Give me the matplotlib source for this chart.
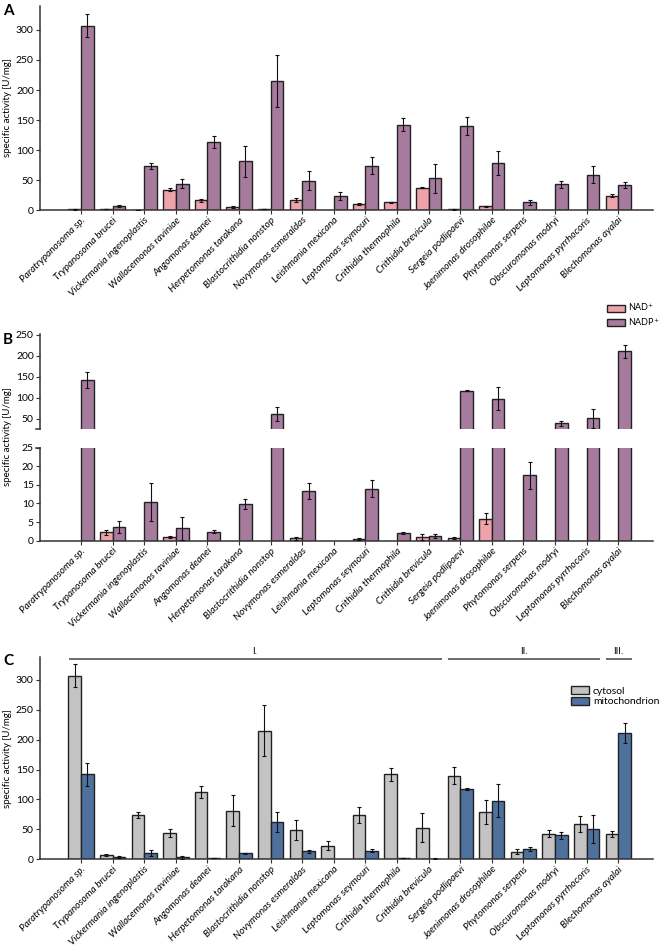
import numpy as np
import matplotlib
matplotlib.use('Agg')
import matplotlib.pyplot as plt
from matplotlib.patches import Patch

plt.rcParams['font.family'] = ['Lato', 'DejaVu Sans']

species = ['Paratrypanosoma sp.', 'Trypanosoma brucei', 'Vickermania ingenoplastis',
           'Wallacemonas raviniae', 'Angomonas deanei', 'Herpetomonas tarakana',
           'Blastocrithidia nonstop', 'Novymonas esmeraldas', 'Leishmania mexicana',
           'Leptomonas seymouri', 'Crithidia thermophila', 'Crithidia brevicula',
           'Sergeia podlipaevi', 'Jaenimonas drosophilae', 'Phytomonas serpens',
           'Obscuromonas modryi', 'Leptomonas pyrrhocoris', 'Blechomonas ayalai']

# panel A (cytosol)
nad_cyt = [1.0, 1.5, 0.5, 34, 16, 5.5, 1.5, 17, np.nan, 10, 13, 37, 1.0, 6, np.nan, np.nan, np.nan, 24]
nad_cyt_err = [0.3, 0.3, 0.2, 2, 3, 1.5, 0.3, 3, 0, 1, 1, 1, 0.3, 1, 0, 0, 0, 3]
nadp_cyt = [307, 7, 74, 44, 113, 81, 215, 49, 23, 74, 142, 53, 140, 79, 13, 43, 59, 42]
nadp_cyt_err = [19, 2, 5, 7, 10, 26, 43, 16, 7, 14, 11, 24, 15, 20, 4, 6, 14, 5]

# panel B (mitochondrion)
nad_mit = [np.nan, 2.2, np.nan, 1.0, np.nan, np.nan, np.nan, 0.6, np.nan, 0.4, np.nan, 1.0, 0.7, 5.9,
           np.nan, np.nan, np.nan, np.nan]
nad_mit_err = [0, 0.7, 0, 0.3, 0, 0, 0, 0.3, 0, 0.2, 0, 0.7, 0.2, 1.5, 0, 0, 0, 0]
nadp_mit = [142, 3.6, 10.3, 3.3, 2.4, 9.8, 62, 13.4, np.nan, 14.0, 2.0, 1.2, 117, 98, 17.6, 40, 51, 211]
nadp_mit_err = [19, 1.6, 5.1, 3.0, 0.4, 1.3, 17, 2.1, 0, 2.4, 0.3, 0.6, 1.5, 27, 3.6, 6, 23, 16]

groups = [('I.', 0, 11), ('II.', 12, 16), ('III.', 17, 17)]

c_nad = '#eea3aa'
c_nadp = '#a67b9d'
c_cyt = '#c3c3c3'
c_mit = '#4f719e'
edge = '#222222'

W, H = 660, 948
fig = plt.figure(figsize=(W / 100, H / 100), dpi=100)

def px_axes(x0, y0, x1, y1):
    return fig.add_axes([x0 / W, 1 - y1 / H, (x1 - x0) / W, (y1 - y0) / H])

x = np.arange(len(species))
bw = 0.4

def draw_bars(ax, vals, errs, offset, color):
    vals = np.array(vals, dtype=float)
    m = ~np.isnan(vals)
    ax.bar(x[m] + offset, vals[m], bw, color=color, edgecolor=edge, linewidth=1.0, zorder=2)
    e = np.array(errs, dtype=float)
    ax.errorbar(x[m] + offset, vals[m], yerr=e[m], fmt='none', ecolor='#111111',
                elinewidth=0.8, capsize=1.5, capthick=0.8, zorder=3)

def style(ax, bottom=True):
    for s in ['top', 'right']:
        ax.spines[s].set_visible(False)
    for s in ['left', 'bottom']:
        ax.spines[s].set_color('#333333')
        ax.spines[s].set_linewidth(1.1)
    ax.tick_params(axis='y', labelsize=7.5, length=3, width=0.8, pad=1.5, colors='#333333')
    ax.tick_params(axis='y', labelcolor='black')
    ax.set_xlim(-1.3, 18.1)
    ax.set_xticks(x)
    if bottom:
        ax.tick_params(axis='x', length=3, width=0.8, pad=1, colors='#333333')
        ax.set_xticklabels(species, rotation=45, ha='right', rotation_mode='anchor',
                           fontsize=7.2, style='italic', color='black')
    else:
        ax.spines['bottom'].set_visible(False)
        ax.tick_params(axis='x', length=0, labelbottom=False)

# ---- panel A
axA = px_axes(40, 6, 653, 210)
draw_bars(axA, nad_cyt, nad_cyt_err, -bw / 2, c_nad)
draw_bars(axA, nadp_cyt, nadp_cyt_err, bw / 2, c_nadp)
axA.set_ylim(0, 340)
axA.set_yticks([0, 50, 100, 150, 200, 250, 300])
style(axA)
axA.set_ylabel('specific activity [U/mg]', fontsize=7, labelpad=3)
axA.legend(handles=[Patch(facecolor=c_nad, edgecolor=edge, label='NAD$^{+}$'),
                    Patch(facecolor=c_nadp, edgecolor=edge, label='NADP$^{+}$')],
           loc='upper left', bbox_to_anchor=(602 / W, 1 - 297 / H), bbox_transform=fig.transFigure,
           frameon=False, fontsize=6.5, handlelength=2.0, handleheight=0.8, handletextpad=0.4,
           labelspacing=0.3, borderpad=0)

# ---- panel B (broken axis)
axBu = px_axes(40, 334, 653, 429)
axBl = px_axes(40, 447.5, 653, 540.7)
for ax in (axBu, axBl):
    draw_bars(ax, nad_mit, nad_mit_err, -bw / 2, c_nad)
    draw_bars(ax, nadp_mit, nadp_mit_err, bw / 2, c_nadp)
axBu.set_ylim(26, 252)
axBu.set_yticks([50, 100, 150, 200, 250])
axBl.set_ylim(0, 25)
axBl.set_yticks([0, 5, 10, 15, 20, 25])
style(axBu, bottom=False)
style(axBl)
axBu.plot([-0.006, 0], [0, 0], transform=axBu.transAxes, color='#333333', lw=1.1, clip_on=False)
axBl.plot([-0.006, 0], [1, 1], transform=axBl.transAxes, color='#333333', lw=1.1, clip_on=False)
fig.text(8 / W, 1 - 437 / H, 'specific activity [U/mg]', rotation=90, fontsize=7,
         ha='center', va='center')

# ---- panel C
axC = px_axes(40, 657, 653, 859.3)
draw_bars(axC, nadp_cyt, nadp_cyt_err, -bw / 2, c_cyt)
draw_bars(axC, nadp_mit, nadp_mit_err, bw / 2, c_mit)
axC.set_ylim(0, 338)
axC.set_yticks([0, 50, 100, 150, 200, 250, 300])
style(axC)
axC.set_ylabel('specific activity [U/mg]', fontsize=7, labelpad=3)
axC.legend(handles=[Patch(facecolor=c_cyt, edgecolor=edge, label='cytosol'),
                    Patch(facecolor=c_mit, edgecolor=edge, label='mitochondrion')],
           loc='upper left', bbox_to_anchor=(566 / W, 1 - 681 / H), bbox_transform=fig.transFigure,
           frameon=False, fontsize=7.5, handlelength=1.7, handleheight=0.8, handletextpad=0.4,
           labelspacing=0.1, borderpad=0)

# group brackets above panel C
yline = 334.5
for name, i0, i1 in groups:
    axC.plot([i0 - 0.38, i1 + 0.42], [yline, yline], color='#444444', lw=1.1,
             clip_on=False, solid_capstyle='butt')
    axC.text((i0 + i1) / 2, yline + 5, name, ha='center', va='bottom', fontsize=7)

# panel letters
for lab, yy in [('A', 11), ('B', 340), ('C', 661)]:
    fig.text(3 / W, 1 - yy / H, lab, fontsize=11, fontweight='bold', ha='left', va='center')

fig.savefig('out.png', dpi=100)
